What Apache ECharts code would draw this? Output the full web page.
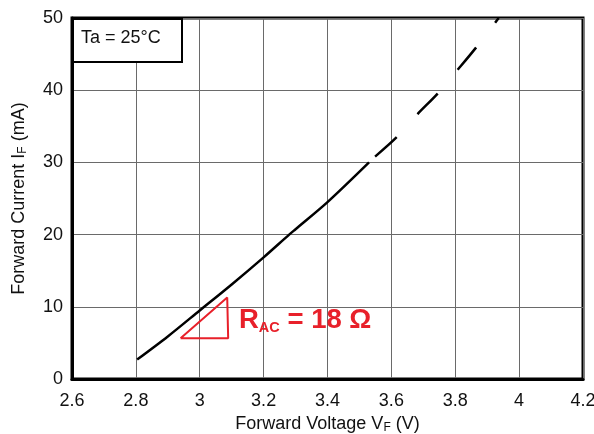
<!DOCTYPE html>
<html>
<head>
<meta charset="utf-8">
<script src="https://cdn.jsdelivr.net/npm/echarts@6/dist/echarts.min.js"></script>
<style>
  html, body { margin: 0; padding: 0; background: #fff; }
  #chart { width: 594px; height: 434px; }
</style>
</head>
<body>
<div id="chart"></div>
<script>
// curve: VF (V), IF (mA)
const solidV = [2.804, 2.9, 3.0, 3.1, 3.2, 3.28, 3.3, 3.4, 3.53];
const solidI = [2.7, 5.9, 9.5, 13.1, 16.85, 20.0, 20.75, 24.5, 30.0];
const dashV = [3.549, 3.617, 3.682, 3.744, 3.807, 3.865, 3.936];
const dashI = [30.8, 33.5, 36.7, 39.5, 42.8, 45.9, 50.0];

// RAC slope triangle
const triV = [2.94, 3.089, 3.086, 2.94];
const triI = [5.64, 5.64, 11.3, 5.64];

const xTicks = ['2.6', '2.8', '3', '3.2', '3.4', '3.6', '3.8', '4', '4.2'];
const yTicks = ['0', '10', '20', '30', '40', '50'];

const font = '"Liberation Sans", Arial, sans-serif';
const pairs = (xs, ys) => xs.map((x, i) => [x, ys[i]]);

const chart = echarts.init(document.getElementById('chart'));

chart.setOption({
  animation: false,
  textStyle: { fontFamily: font },
  grid: {
    left: 72, right: 11, top: 18, bottom: 55,
    outerBoundsMode: 'none',
    show: true, borderColor: '#000', borderWidth: 3
  },
  xAxis: {
    type: 'value',
    min: Number(xTicks[0]), max: Number(xTicks[xTicks.length - 1]), interval: 0.2,
    name: '{a|Forward Voltage V}{s|F}{a| (V)}',
    nameLocation: 'middle', nameGap: 34,
    nameTextStyle: {
      rich: {
        a: { fontSize: 18, color: '#111', fontFamily: font },
        s: { fontSize: 12, color: '#111', fontFamily: font, padding: [7, 0, 0, 0] }
      }
    },
    axisLine: { lineStyle: { color: '#000', width: 3 } },
    axisTick: { show: false },
    axisLabel: {
      fontSize: 18, color: '#111', margin: 13,
      formatter: v => String(Math.round(v * 10) / 10)
    },
    splitLine: { show: true, lineStyle: { color: '#6a6a6a', width: 1 } }
  },
  yAxis: {
    type: 'value',
    min: Number(yTicks[0]), max: Number(yTicks[yTicks.length - 1]), interval: 10,
    name: '{a|Forward Current I}{s|F}{a| (mA)}',
    nameLocation: 'middle', nameGap: 43, nameRotate: 90,
    nameTextStyle: {
      rich: {
        a: { fontSize: 18, color: '#111', fontFamily: font },
        s: { fontSize: 12, color: '#111', fontFamily: font, padding: [7, 0, 0, 0] }
      }
    },
    axisLine: { lineStyle: { color: '#000', width: 3 } },
    axisTick: { show: false },
    axisLabel: { fontSize: 18, color: '#111', margin: 9 },
    splitLine: { show: true, lineStyle: { color: '#6a6a6a', width: 1 } }
  },
  series: [
    {
      type: 'line', data: pairs(solidV, solidI), showSymbol: false, smooth: 0.3,
      lineStyle: { color: '#000', width: 2.5 }, z: 5
    },
    {
      type: 'line', data: pairs(dashV, dashI), showSymbol: false, smooth: 0.3,
      lineStyle: { color: '#000', width: 2.5, type: [29, 31] }, z: 5
    },
    {
      type: 'line', data: pairs(triV, triI), showSymbol: false,
      lineStyle: { color: '#e8202a', width: 2 }, z: 6
    }
  ],
  graphic: [
    {
      type: 'rect', left: 72, top: 18, z: 10,
      shape: { width: 109, height: 43 },
      style: { fill: '#fff', stroke: '#000', lineWidth: 2 }
    },
    {
      type: 'text', left: 81, top: 29, z: 11,
      style: { text: 'Ta = 25°C', font: '18px ' + font, fill: '#111' }
    },
    {
      type: 'text', left: 239, top: 306, z: 11,
      style: {
        text: '{r|R}{s|AC}{r| = 18 Ω}',
        rich: {
          r: { fontSize: 27.5, fontWeight: 'bold', fill: '#e8202a', fontFamily: font },
          s: { fontSize: 14.5, fontWeight: 'bold', fill: '#e8202a', fontFamily: font, padding: [15, 0, 0, 0] }
        }
      }
    }
  ]
});
</script>
</body>
</html>
